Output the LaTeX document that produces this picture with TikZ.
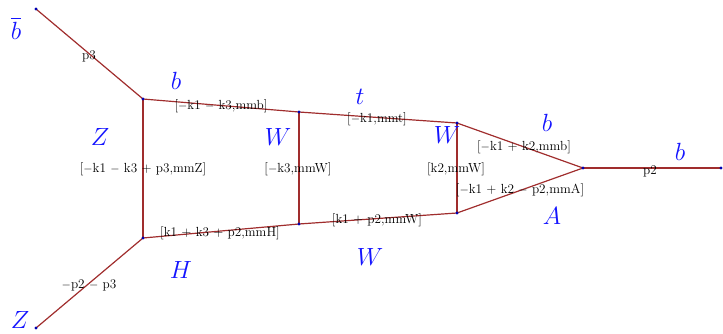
\documentclass[tikz,border=0pt]{standalone}
\usepackage{amsmath}
\definecolor{edgecol}{RGB}{160,45,45}
\definecolor{labblue}{RGB}{20,20,255}
\begin{document}
\begin{tikzpicture}[x=1pt,y=-1pt,
  vtx/.style={circle,fill=blue!70!black,inner sep=0pt,minimum size=3.4pt},
  prop/.style={draw=edgecol,line width=1.2pt},
  mom/.style={font=\fontsize{13.2}{15}\selectfont,text=black,inner sep=0pt},
  part/.style={font=\fontsize{24}{28}\selectfont,text=labblue,inner sep=0pt}]
\useasboundingbox (0,0) rectangle (723,334);
\coordinate (e1) at (36,9);
\coordinate (v1) at (143,99);
\coordinate (e2) at (36,328);
\coordinate (v2) at (143,238);
\coordinate (v3) at (299,112);
\coordinate (v4) at (299,224);
\coordinate (v5) at (457,123);
\coordinate (v6) at (457,213);
\coordinate (v7) at (583,168);
\coordinate (e3) at (721,168);
\draw[prop] (e1) -- (v1);
\draw[prop] (e2) -- (v2);
\draw[prop] (v1) -- (v2);
\draw[prop] (v1) -- (v3);
\draw[prop] (v3) -- (v5);
\draw[prop] (v3) -- (v4);
\draw[prop] (v2) -- (v4);
\draw[prop] (v4) -- (v6);
\draw[prop] (v5) -- (v6);
\draw[prop] (v5) -- (v7);
\draw[prop] (v6) -- (v7);
\draw[prop] (v7) -- (e3);
\foreach \v in {e1,v1,e2,v2,v3,v4,v5,v6,v7,e3} \node[vtx] at (\v) {};
% momentum labels
\node[mom] (m1) at (89,56) {p3};
\node[mom] (m2) at (221,106) {[$-$k1 $-$ k3,mmb]};
\node[mom] (m3) at (377,119) {[$-$k1,mmt]};
\node[mom] (m4) at (524,147) {[$-$k1 + k2,mmb]};
\node[mom] (m5) at (143,169) {[$-$k1 $-$ k3 + p3,mmZ]};
\node[mom] (m6) at (298,169) {[$-$k3,mmW]};
\node[mom] (m7) at (456,169) {[k2,mmW]};
\node[mom] (m8) at (520,190) {[$-$k1 + k2 $-$ p2,mmA]};
\node[mom] (m9) at (650,171) {p2};
\node[mom] (m10) at (220,233) {[k1 + k3 + p2,mmH]};
\node[mom] (m11) at (377,220) {[k1 + p2,mmW]};
\node[mom] (m12) at (89,285) {$-$p2 $-$ p3};
% particle labels
\node[part] (l1) at (16,28) {$\overline{b}$};
\node[part] (l2) at (176,81) {$b$};
\node[part] (l3) at (360,97) {$t$};
\node[part] (l4) at (278,137) {$W$};
\node[part] (l5) at (447,135) {$W$};
\node[part] (l6) at (547,123) {$b$};
\node[part] (l7) at (100,137) {$Z$};
\node[part] (l8) at (680,152) {$b$};
\node[part] (l9) at (552,216) {$A$};
\node[part] (l10) at (370,257) {$W$};
\node[part] (l11) at (181,270) {$H$};
\node[part] (l12) at (20,320) {$Z$};
\end{tikzpicture}
\end{document}
